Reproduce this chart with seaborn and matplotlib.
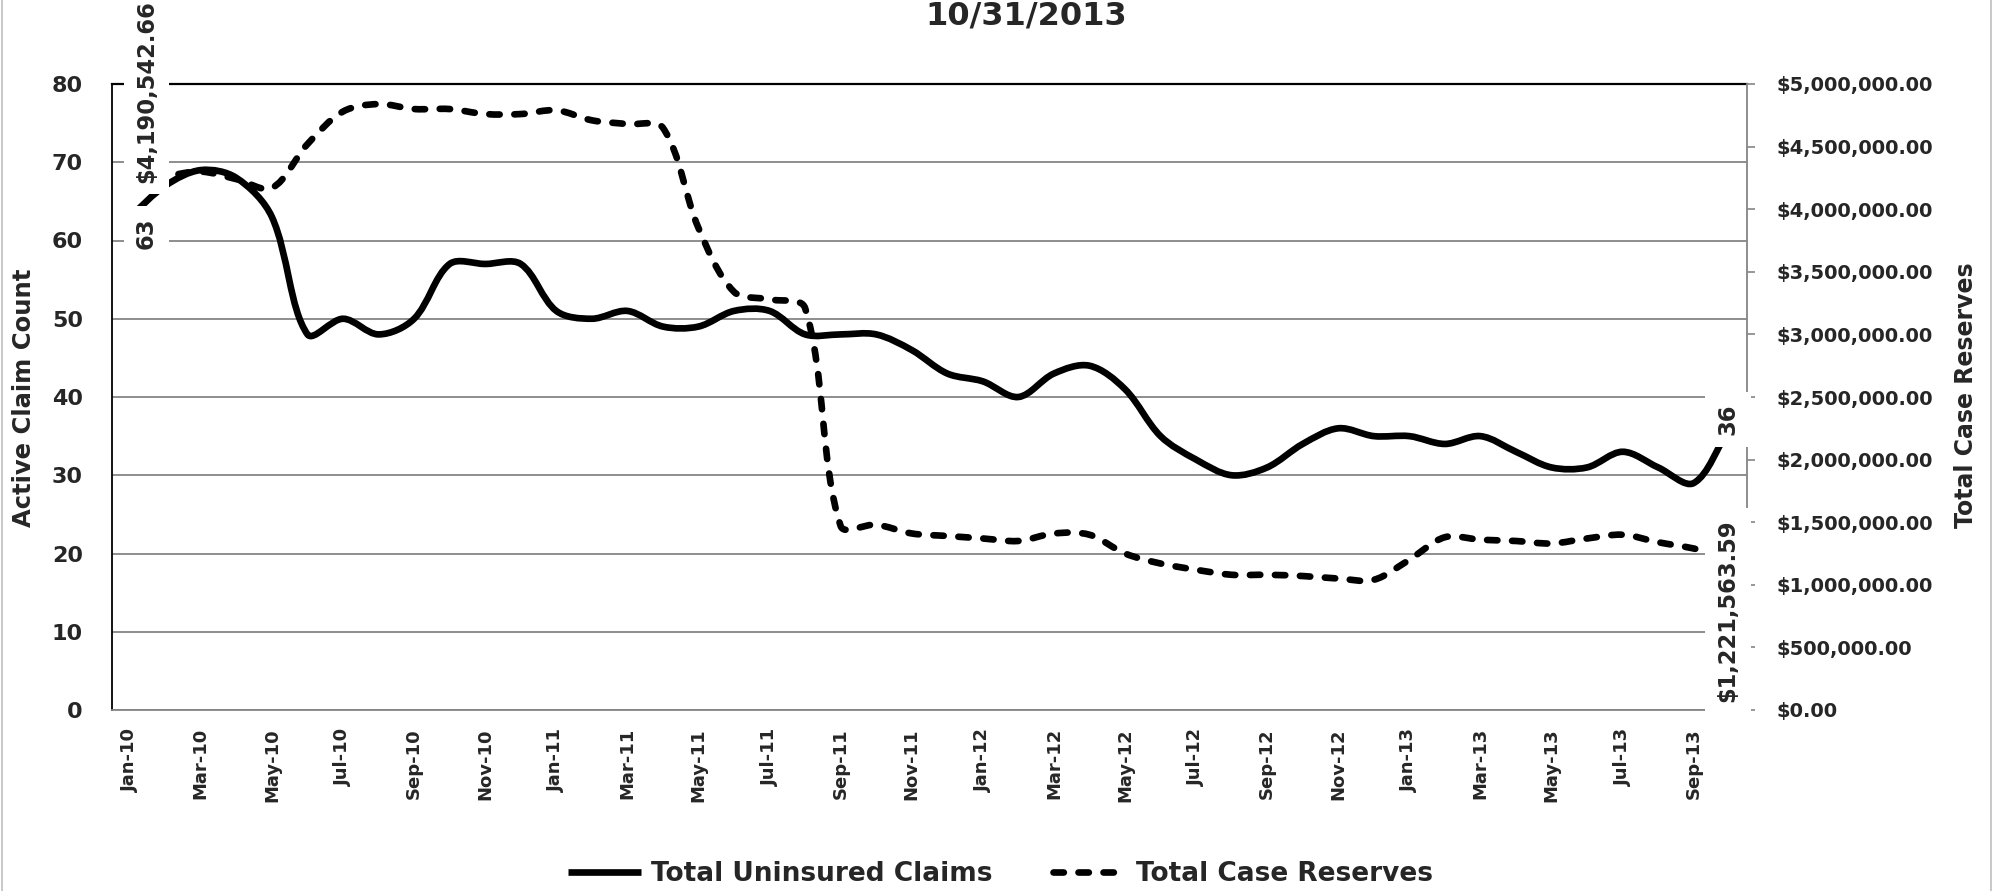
import numpy as np
import pandas as pd
import matplotlib
matplotlib.use("Agg")
import matplotlib.pyplot as plt
import seaborn as sns
from matplotlib.path import Path
from matplotlib.patches import PathPatch, Rectangle
from matplotlib.lines import Line2D
from matplotlib.ticker import FuncFormatter, MultipleLocator

# monthly data, Jan-10 .. Oct-13
months = ["Jan-10", "Feb-10", "Mar-10", "Apr-10", "May-10", "Jun-10", "Jul-10", "Aug-10",
          "Sep-10", "Oct-10", "Nov-10", "Dec-10", "Jan-11", "Feb-11", "Mar-11", "Apr-11",
          "May-11", "Jun-11", "Jul-11", "Aug-11", "Sep-11", "Oct-11", "Nov-11", "Dec-11",
          "Jan-12", "Feb-12", "Mar-12", "Apr-12", "May-12", "Jun-12", "Jul-12", "Aug-12",
          "Sep-12", "Oct-12", "Nov-12", "Dec-12", "Jan-13", "Feb-13", "Mar-13", "Apr-13",
          "May-13", "Jun-13", "Jul-13", "Aug-13", "Sep-13", "Oct-13"]
claims = [63, 67, 69, 68, 63, 48, 50, 48, 50, 57, 57, 57, 51, 50, 51, 49,
          49, 51, 51, 48, 48, 48, 46, 43, 42, 40, 43, 44, 41, 35, 32, 30,
          31, 34, 36, 35, 35, 34, 35, 33, 31, 31, 33, 31, 29, 36]
reserves = [4190542.66, 4260000, 4300000, 4240000, 4170000, 4520000, 4780000, 4840000,
            4800000, 4800000, 4760000, 4760000, 4790000, 4710000, 4680000, 4650000,
            3850000, 3340000, 3280000, 3210000, 1470000, 1480000, 1410000, 1390000,
            1370000, 1350000, 1410000, 1400000, 1250000, 1170000, 1120000, 1080000,
            1080000, 1070000, 1050000, 1040000, 1200000, 1380000, 1360000, 1350000,
            1330000, 1370000, 1400000, 1340000, 1290000, 1221563.59]

df = pd.DataFrame({"month": months, "pos": range(len(months)),
                   "claims": claims, "reserves": reserves})

sns.set_style("white")
plt.rcParams["font.family"] = ["DejaVu Sans"]

GRID = "#858585"
LW = 4.8
DASH = (0, (1.55, 2.2))


def smooth(line, ls="solid", f=1 / 3):
    # excel-like smoothed line: bezier with chord-length scaled tangents (in pixels)
    tr = line.axes.transData
    p = tr.transform(np.column_stack([line.get_xdata(), line.get_ydata()]))
    n = len(p)
    before, after = p.copy(), p.copy()
    for i in range(1, n - 1):
        t = p[i + 1] - p[i - 1]
        d1 = np.hypot(*(p[i] - p[i - 1]))
        d2 = np.hypot(*(p[i + 1] - p[i]))
        before[i] = p[i] - t * f * d1 / (d1 + d2)
        after[i] = p[i] + t * f * d2 / (d1 + d2)
    after[0] = p[0] + (p[1] - p[0]) * f
    before[-1] = p[-1] - (p[-1] - p[-2]) * f
    verts = [p[0]]
    codes = [Path.MOVETO]
    for i in range(n - 1):
        verts += [after[i], before[i + 1], p[i + 1]]
        codes += [Path.CURVE4] * 3
    verts = tr.inverted().transform(np.array(verts))
    patch = PathPatch(Path(verts, codes), fill=False, edgecolor="black", lw=LW,
                      linestyle=ls, capstyle="round", joinstyle="round", zorder=3)
    line.axes.add_patch(patch)
    line.set_visible(False)


fig = plt.figure(figsize=(19.94, 8.91), dpi=100)
ax = fig.add_axes([112 / 1994, 1 - 710 / 891, 1635 / 1994, 626 / 891])
ax2 = ax.twinx()

sns.lineplot(data=df, x="pos", y="claims", ax=ax, color="black", lw=LW)
sns.lineplot(data=df, x="pos", y="reserves", ax=ax2, color="black", lw=LW)

ax.set_xlim(-0.5, len(months) - 0.5)
ax.set_ylim(0, 80)
ax2.set_ylim(0, 5000000)
ax.set_xlabel("")
ax.set_ylabel("")
ax2.set_ylabel("")

smooth(ax.get_lines()[-1])
smooth(ax2.get_lines()[-1], DASH)

ax.yaxis.set_major_locator(MultipleLocator(10))
ax.yaxis.grid(True, color=GRID, lw=1.3)
ax.set_axisbelow(True)
ax.tick_params(axis="x", length=0, pad=13, labelsize=13)
ax.tick_params(axis="y", length=0, pad=21, labelsize=16)
ax.set_xticks(df["pos"][::2])
ax.set_xticklabels(df["month"][::2], rotation=90, fontsize=13, fontweight="bold")
for t in ax.get_yticklabels():
    t.set_fontweight("bold")

ax2.yaxis.set_major_locator(MultipleLocator(500000))
ax2.yaxis.set_major_formatter(FuncFormatter(lambda v, p: f"${v:,.2f}"))
ax2.tick_params(axis="y", length=6, width=1.2, color=GRID, pad=15, labelsize=14)
for t in ax2.get_yticklabels():
    t.set_fontweight("bold")

ax.spines["left"].set_color("black")
ax.spines["left"].set_linewidth(1.3)
ax.spines["top"].set_color("black")
ax.spines["top"].set_linewidth(1.6)
ax.spines["bottom"].set_color(GRID)
ax.spines["bottom"].set_linewidth(1.3)
ax.spines["right"].set_visible(False)
for s in ["left", "top", "bottom"]:
    ax2.spines[s].set_visible(False)
ax2.spines["right"].set_color(GRID)
ax2.spines["right"].set_linewidth(1.3)

# data labels on first and last point
box = dict(boxstyle="square,pad=0.5", fc="white", ec="none")
lab = dict(rotation=90, fontsize=16.3, fontweight="bold", ha="center", zorder=10,
           bbox=box, textcoords="offset points", annotation_clip=False)
ax2.annotate(f"{claims[0]}", xy=(0, claims[0]), xycoords=ax.transData,
             xytext=(12, 0), va="top", **lab)
ax2.annotate(f"${reserves[0]:,.2f}", xy=(0, reserves[0]),
             xytext=(12, 2), va="bottom", **lab)
ax2.annotate(f"{claims[-1]}", xy=(len(months) - 1, claims[-1]), xycoords=ax.transData,
             xytext=(-1, -5), va="bottom", **lab)
ax2.annotate(f"${reserves[-1]:,.2f}", xy=(len(months) - 1, 0),
             xytext=(-1, 6), va="bottom", **lab)

fig.text(24.5 / 1994, 1 - 398 / 891, "Active Claim Count", rotation=90, ha="center",
         va="center", fontsize=17.5, fontweight="bold")
fig.text(1966 / 1994, 1 - 395 / 891, "Total Case Reserves", rotation=90, ha="center",
         va="center", fontsize=17, fontweight="bold")
fig.text(0.5145, 0.9826, "10/31/2013", ha="center", va="center", fontsize=23,
         fontweight="bold")

handles = [Line2D([0], [0], color="black", lw=LW, solid_capstyle="butt"),
           Line2D([0], [0], color="black", lw=LW, linestyle=DASH, dash_capstyle="round")]
fig.legend(handles, ["Total Uninsured Claims", "Total Case Reserves"], loc="center",
           bbox_to_anchor=(0.5018, 0.019), ncol=2, frameon=False,
           prop=dict(size=19, weight="bold"), handlelength=2.77, handletextpad=0.38,
           columnspacing=2.3, borderpad=0)

fig.patches.append(Rectangle((0.0008, -0.02), 0.9975, 1.04, transform=fig.transFigure,
                             fill=False, ec="#bfbfbf", lw=1.2))

fig.savefig("out.png", dpi=100)
